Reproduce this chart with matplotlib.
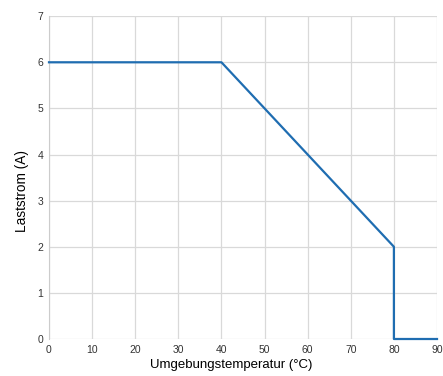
import matplotlib
matplotlib.use("Agg")
from matplotlib import pyplot as plt

# derating curve
temps = [0, 40, 80, 80, 90]
current = [6, 6, 2, 0, 0]
x_ticks = list(range(0, 100, 10))
y_ticks = list(range(0, 8))

plt.rcParams['font.family'] = ['Liberation Sans', 'DejaVu Sans']

fig = plt.figure(figsize=(4.43, 3.76), dpi=100)
ax = fig.add_axes([0.1106, 0.0984, 0.8759, 0.8586])

ax.plot(temps, current, color="#1f6db1", linewidth=1.6, clip_on=False, zorder=3)

ax.set_xlim(0, 90)
ax.set_ylim(0, 7)
ax.set_xticks(x_ticks)
ax.set_yticks(y_ticks)
ax.grid(True, color="#d9d9d9", linewidth=0.9)
ax.set_axisbelow(True)
for side in ["top", "right", "bottom"]:
    ax.spines[side].set_visible(False)
ax.spines["left"].set_color("#cccccc")
ax.tick_params(length=0, labelsize=7.5, colors="#333333", pad=4)

ax.set_xlabel("Umgebungstemperatur (°C)", fontsize=9.5)
ax.set_ylabel("Laststrom (A)", fontsize=9.8)
# labels sit a bit off-centre in the original
ax.xaxis.set_label_coords(0.469, -0.063)
ax.yaxis.set_label_coords(-0.052, 0.458)

fig.savefig("out.png", dpi=100)
